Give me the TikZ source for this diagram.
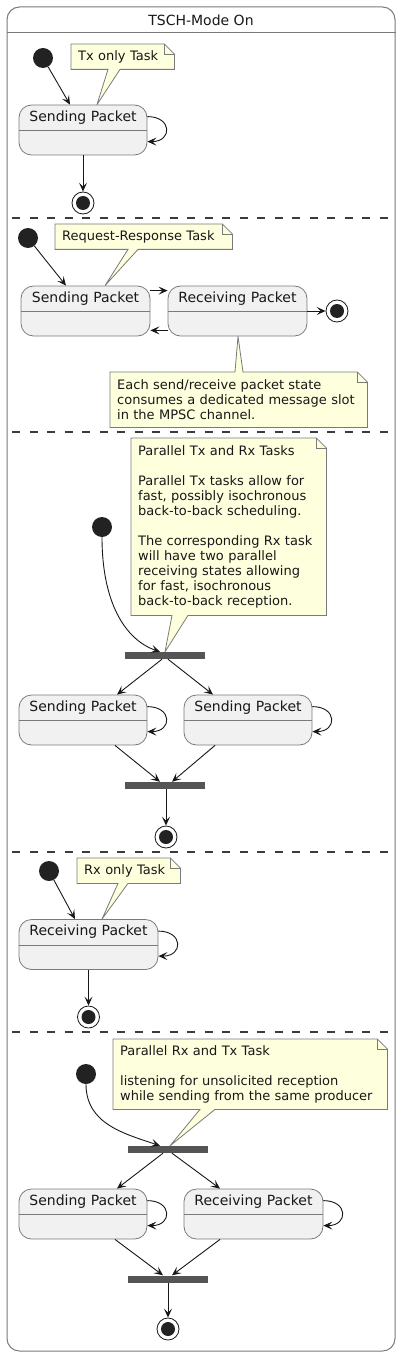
\documentclass[tikz,border=0pt]{standalone}
\usepackage{fontspec}
\setmainfont{DejaVu Sans}
\usetikzlibrary{arrows.meta}
\pgfdeclarelayer{bg}
\pgfsetlayers{bg,main}
\definecolor{stfill}{HTML}{F1F1F1}
\definecolor{ln}{HTML}{181818}
\definecolor{bd}{HTML}{7A7A7A}
\definecolor{ntfill}{HTML}{FEFFDD}
\definecolor{dotc}{HTML}{222222}
\definecolor{barc}{HTML}{555555}
\newcommand\stfont{\fontsize{14}{16}\selectfont}
\newcommand\ntfont{\fontsize{13}{15}\selectfont}
\newcommand\mystate[5]{%
 \node[state, minimum width=#4pt] (#1) at (#2,#3) {};
 \node[sttext] (#1t) at ([yshift=-13pt]#1.north) {#5};
 \draw[stline] ([yshift=-26pt]#1.north west) -- ([yshift=-26pt]#1.north east);}
\newcommand\myloop[1]{\draw[arr] ([yshift=-12pt]#1.north east) .. controls +(25,0) and +(25,0) .. ([yshift=-37pt]#1.north east);}
\tikzset{
 state/.style={draw=bd, line width=0.8pt, fill=stfill, rounded corners=12.5pt, minimum height=50pt, inner sep=0pt},
 sttext/.style={font=\stfont, text=ln, inner sep=0pt},
 stline/.style={draw=bd, line width=0.8pt},
 arr/.style={draw=ln, line width=0.9pt, -{Stealth[length=9pt,width=8pt,inset=4pt]}},
 init/.style={circle, fill=dotc, minimum size=20pt, inner sep=0pt},
 final/.style={circle, draw=ln, line width=0.8pt, fill=white, minimum size=22pt, inner sep=0pt, path picture={\fill[dotc] (path picture bounding box.center) circle (7pt);}},
 bar/.style={fill=barc, minimum width=80pt, minimum height=7pt, inner sep=0pt},
 note/.style={anchor=north west, inner xsep=7pt, inner ysep=0pt, align=left, font=\ntfont, text=ln},
 notebox/.style={draw=bd, line width=0.8pt, fill=ntfill, line join=miter},
 sepline/.style={draw=ln!85, line width=1.3pt, dash pattern=on 8pt off 9.5pt},
}
\begin{document}
\begin{tikzpicture}[x=1pt,y=-1pt]
\useasboundingbox (0,0) rectangle (401,1356);
% outer composite state
\node[draw=bd, line width=1pt, rounded corners=12.5pt, minimum width=388pt, minimum height=1344pt, inner sep=0pt] (outer) at (201,679) {};
\draw[draw=bd, line width=1pt] ([yshift=-26pt]outer.north west) -- ([yshift=-26pt]outer.north east);
\node[sttext] (title) at (201,20) {TSCH-Mode On};
% separators
\draw[sepline] (12,218) -- (389,218);
\draw[sepline] (12,432) -- (389,432);
\draw[sepline] (12,852) -- (389,852);
\draw[sepline] (12,1032) -- (389,1032);

% ---------- section 1
\node[init] (i1) at (43,58) {};
\mystate{s1}{83}{130}{128}{Sending Packet}
\node[final] (f1) at (83,203) {};
\draw[arr] (i1) -- ([xshift=-13pt]s1.north);
\myloop{s1}
\draw[arr] (s1.south) -- (f1);
\node[note, text width=89pt, minimum height=25pt] (n1) at (71,44) {Tx only Task};
\begin{pgfonlayer}{bg}
\draw[notebox] (n1.north west) -- ([xshift=-10pt]n1.north east) -- ([yshift=-10pt]n1.north east) -- (n1.south east) -- ([xshift=49pt]n1.south west) -- ([xshift=14pt]s1.north) -- ([xshift=37pt]n1.south west) -- (n1.south west) -- cycle;
\draw[notebox, fill=none] ([xshift=-10pt]n1.north east) |- ([yshift=-10pt]n1.north east);
\end{pgfonlayer}

% ---------- section 2
\node[init] (i2) at (28,238) {};
\mystate{s2a}{85.5}{311}{129}{Sending Packet}
\mystate{s2b}{237.5}{311}{139}{Receiving Packet}
\node[final] (f2) at (337,311) {};
\draw[arr] (i2) -- ([xshift=-19.5pt]s2a.north);
\draw[arr] ([yshift=-5pt]s2a.north east) -- ([yshift=-5pt]s2b.north west);
\draw[arr] ([yshift=6pt]s2b.south west) -- ([yshift=6pt]s2a.south east);
\draw[arr] (s2b.east) -- (f2);
\node[note, text width=163pt, minimum height=25pt] (n2) at (55,224) {Request-Response Task};
\node[note, text width=243pt, minimum height=55pt] (n4) at (110,372) {Each send/receive packet state\\consumes a dedicated message slot\\in the MPSC channel.};
\begin{pgfonlayer}{bg}
\draw[notebox] (n2.north west) -- ([xshift=-10pt]n2.north east) -- ([yshift=-10pt]n2.north east) -- (n2.south east) -- ([xshift=83pt]n2.south west) -- ([xshift=19.5pt]s2a.north) -- ([xshift=73pt]n2.south west) -- (n2.south west) -- cycle;
\draw[notebox, fill=none] ([xshift=-10pt]n2.north east) |- ([yshift=-10pt]n2.north east);
\draw[notebox] (n4.north west) -- ([xshift=125pt]n4.north west) -- ([xshift=0.5pt]s2b.south) -- ([xshift=133pt]n4.north west) -- ([xshift=-10pt]n4.north east) -- ([yshift=-10pt]n4.north east) -- (n4.south east) -- (n4.south west) -- cycle;
\draw[notebox, fill=none] ([xshift=-10pt]n4.north east) |- ([yshift=-10pt]n4.north east);
\end{pgfonlayer}

% ---------- section 3
\node[init] (i3) at (102,527) {};
\node[bar] (b3f) at (165,655.5) {};
\mystate{s3a}{83}{720}{128}{Sending Packet}
\mystate{s3b}{248}{720}{128}{Sending Packet}
\node[bar] (b3j) at (165,785.5) {};
\node[final] (f3) at (166,837) {};
\draw[arr] (i3.south) .. controls +(0,65) and +(-35,-12) .. ([xshift=-5pt]b3f.north);
\draw[arr] ([xshift=-3pt]b3f.south) -- ([xshift=34pt]s3a.north);
\draw[arr] ([xshift=3pt]b3f.south) -- ([xshift=-35pt]s3b.north);
\myloop{s3a}
\myloop{s3b}
\draw[arr] ([xshift=32pt]s3a.south) -- ([xshift=-5pt]b3j.north);
\draw[arr] ([xshift=-33pt]s3b.south) -- ([xshift=7pt]b3j.north);
\draw[arr] ([xshift=1pt]b3j.south) -- (f3);
\node[note, text width=181pt, minimum height=177pt] (n3) at (131,438) {Parallel Tx and Rx Tasks\\[15pt]Parallel Tx tasks allow for\\fast, possibly isochronous\\back-to-back scheduling.\\[15pt]The corresponding Rx task\\will have two parallel\\receiving states allowing\\for fast, isochronous\\back-to-back reception.};
\begin{pgfonlayer}{bg}
\draw[notebox] (n3.north west) -- ([xshift=-10pt]n3.north east) -- ([yshift=-10pt]n3.north east) -- (n3.south east) -- ([xshift=57pt]n3.south west) -- (b3f.north) -- ([xshift=41pt]n3.south west) -- (n3.south west) -- cycle;
\draw[notebox, fill=none] ([xshift=-10pt]n3.north east) |- ([yshift=-10pt]n3.north east);
\end{pgfonlayer}

% ---------- section 4
\node[init] (i4) at (49,871) {};
\mystate{s4}{88.5}{944.5}{139}{Receiving Packet}
\node[final] (f4) at (88.5,1017) {};
\draw[arr] (i4) -- ([xshift=-13.5pt]s4.north);
\myloop{s4}
\draw[arr] (s4.south) -- (f4);
\node[note, text width=89pt, minimum height=25pt] (n5) at (77,858) {Rx only Task};
\begin{pgfonlayer}{bg}
\draw[notebox] (n5.north west) -- ([xshift=-10pt]n5.north east) -- ([yshift=-10pt]n5.north east) -- (n5.south east) -- ([xshift=51pt]n5.south west) -- ([xshift=13.5pt]s4.north) -- ([xshift=41pt]n5.south west) -- (n5.south west) -- cycle;
\draw[notebox, fill=none] ([xshift=-10pt]n5.north east) |- ([yshift=-10pt]n5.north east);
\end{pgfonlayer}

% ---------- section 5
\node[init] (i5) at (86,1074) {};
\node[bar] (b5f) at (168,1149.5) {};
\mystate{s5a}{83}{1214}{128}{Sending Packet}
\mystate{s5b}{253.5}{1214}{139}{Receiving Packet}
\node[bar] (b5j) at (168,1279) {};
\node[final] (f5) at (168,1329) {};
\draw[arr] (i5.south) .. controls +(0,40) and +(-35,-12) .. ([xshift=-8pt]b5f.north);
\draw[arr] ([xshift=-5pt]b5f.south) -- ([xshift=34pt]s5a.north);
\draw[arr] ([xshift=4pt]b5f.south) -- ([xshift=-33.5pt]s5b.north);
\myloop{s5a}
\myloop{s5b}
\draw[arr] ([xshift=32pt]s5a.south) -- ([xshift=-5pt]b5j.north);
\draw[arr] ([xshift=-33.5pt]s5b.south) -- ([xshift=4pt]b5j.north);
\draw[arr] (b5j.south) -- (f5);
\node[note, text width=260pt, minimum height=70pt] (n6) at (113,1039) {Parallel Rx and Tx Task\\[15pt]listening for unsolicited reception\\while sending from the same producer};
\begin{pgfonlayer}{bg}
\draw[notebox] (n6.north west) -- ([xshift=-10pt]n6.north east) -- ([yshift=-10pt]n6.north east) -- (n6.south east) -- ([xshift=102pt]n6.south west) -- ([xshift=2pt]b5f.north) -- ([xshift=87pt]n6.south west) -- (n6.south west) -- cycle;
\draw[notebox, fill=none] ([xshift=-10pt]n6.north east) |- ([yshift=-10pt]n6.north east);
\end{pgfonlayer}
\end{tikzpicture}
\end{document}
